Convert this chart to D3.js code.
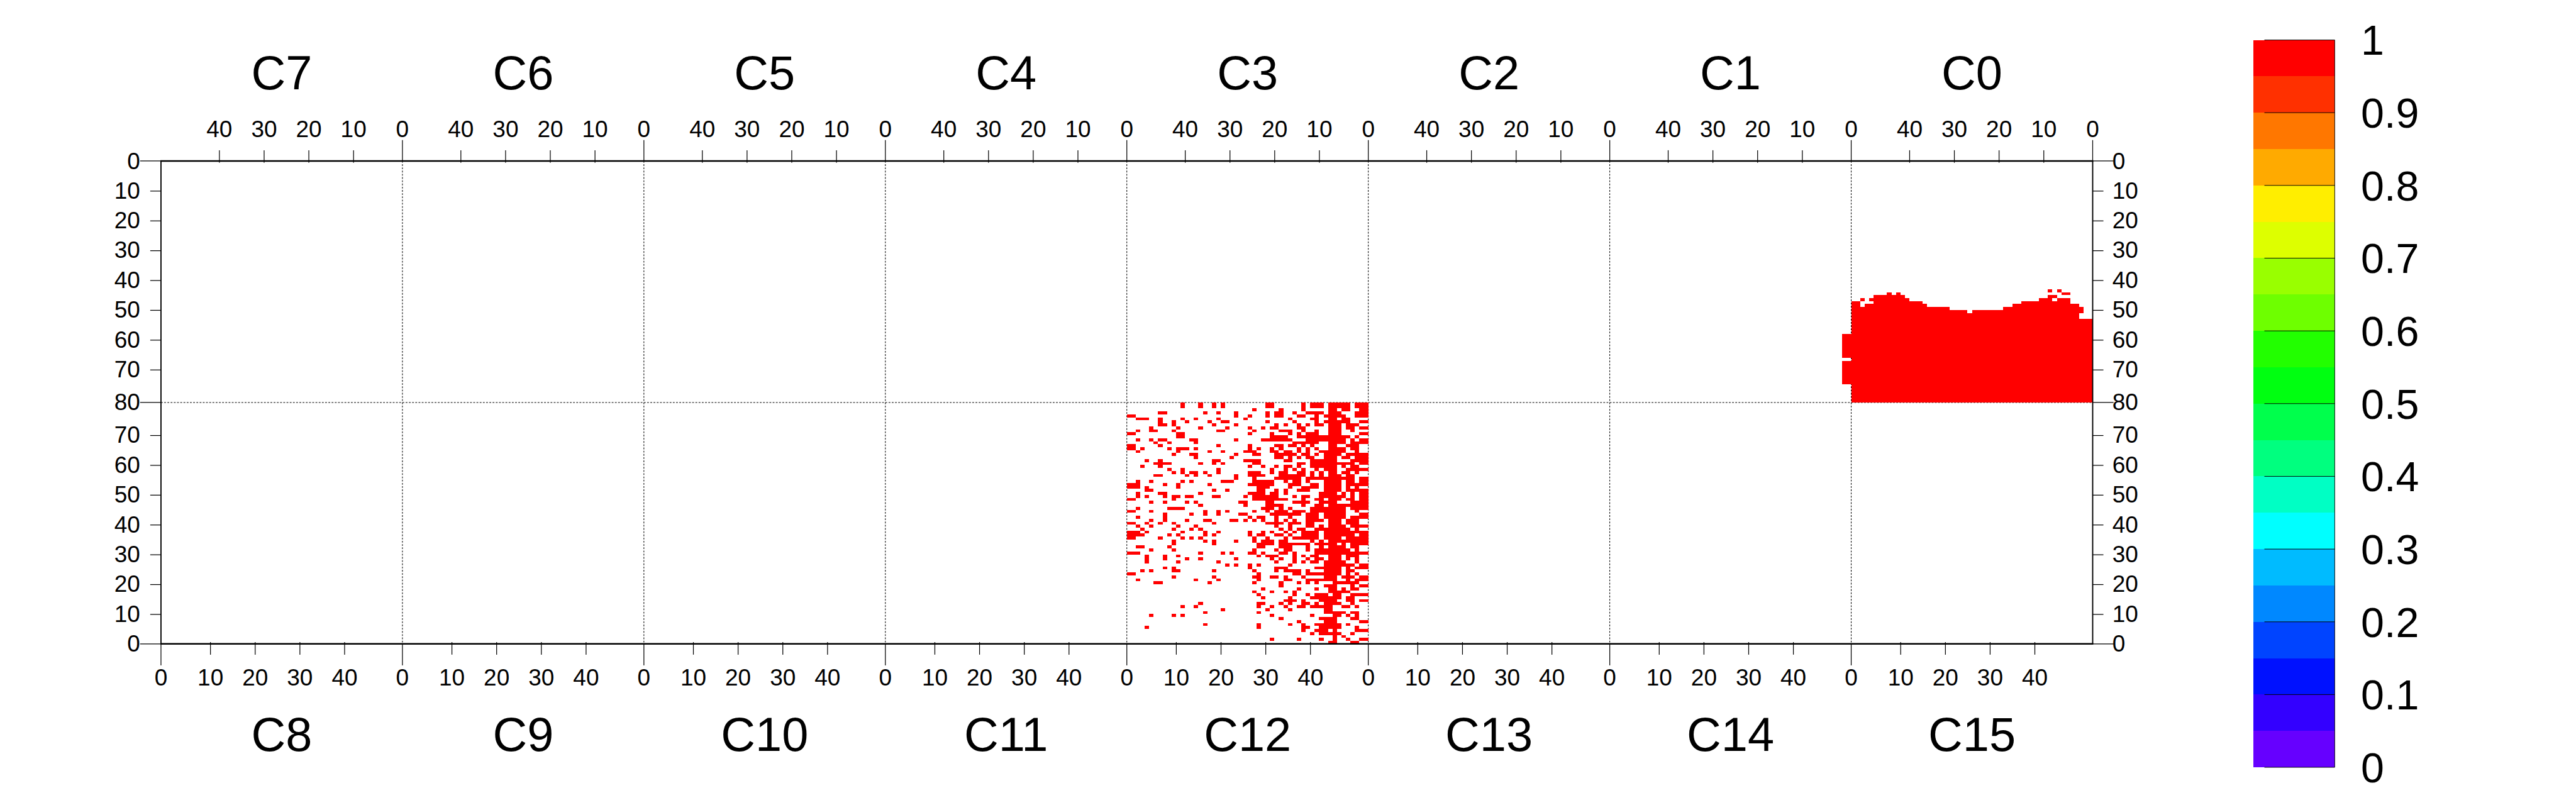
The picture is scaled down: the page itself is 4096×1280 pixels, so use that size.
<!DOCTYPE html>
<html>
<head>
<meta charset="utf-8">
<script src="https://cdn.jsdelivr.net/npm/d3@7"></script>
<style>
  html, body { margin: 0; padding: 0; background: #fff; }
  svg { display: block; }
</style>
</head>
<body>
<svg id="chart" width="4096" height="1280"></svg>
<script>
// ---- data ----
const chipNames = d3.range(16).map((i) => "C" + i);
const xTicks = [10, 20, 30, 40];
const yTicks = [10, 20, 30, 40, 50, 60, 70];
const colorTicks = [0, 0.1, 0.2, 0.3, 0.4, 0.5, 0.6, 0.7, 0.8, 0.9, 1];
const colorTickLabels = ["0", "0.1", "0.2", "0.3", "0.4", "0.5", "0.6", "0.7", "0.8", "0.9", "1"];
// 20 contour levels, low -> high
const paletteColors = [
  "#6600ff", "#3300ff", "#0011ff", "#0044ff", "#0088ff",
  "#00bbff", "#00ffff", "#00ffc4", "#00ff7f", "#00ff4c",
  "#00ff11", "#22ff00", "#6eff00", "#99ff00", "#ddff00",
  "#ffee00", "#ffaa00", "#ff7700", "#ff3000", "#ff0000",
];

// C0: first hit row of each column (col 0 .. 53), filled down to row 80
const c0TopRow = [
  53, 53, 53, 48, 48, 46, 46, 46, 47, 45, 46, 46, 47, 47, 47, 47, 48, 48,
  49, 49, 50, 50, 50, 50, 50, 50, 50, 51, 50, 50, 50, 50, 49, 49, 49, 49,
  49, 48, 47, 47, 47, 46, 45, 44, 45, 44, 45, 45, 45, 48, 48, 49, 47, 47,
];
// C0: isolated hits above the block [col, row]
const c0Extra = [[51, 46], [49, 46], [9, 43], [8, 45], [7, 43], [6, 44], [5, 44], [2, 49], [2, 50]];
// C1: [col, firstRow, lastRow]
const c1Runs = [[0, 58, 65], [0, 67, 74], [1, 58, 65], [1, 67, 74]];
// C12: hit columns per row, row 80 first, row 0 last
const c12Rows = [
  "12 16 19 21 31-32 39 41-43 45-49 51-53",
  "12 16 19 21 31-32 39 41-43 45-49 51-53",
  "28 34 39 45-46 48-49 52-53",
  "7-8 17 20 24 31 33-34 37 40-43 45-47 51-53",
  "0-1 24 27 31 33-34 38-39 42 44-48 51-53",
  "2-4 7 12 15 20 26 36 41-42 45-46 48-49",
  "7 10 13 18 21-22 31 37 42 44-49 52-53",
  "7-8 10 19 24 33 35 38 40 42-43 45-47 49-51",
  "5 11 16 22 27 30 32-33 38-39 45-47 49-50 52-53",
  "2 5-6 10 20-21 28 34-36 39 42 45-47 50",
  "0-1 11-12 27 32 36 38 40-42 45-47 52-53",
  "11-12 32-35 38-49 51",
  "2 5 7-8 14-15 24 30-36 40-48 50 52-53",
  "6 9 15 37-42 45-48 50-53",
  "0-1 7 20 27 33-34 36-37 39 41 45-46 49-51",
  "0-1 3 9 11-13 15 27 29 32 34 38 40 42 45-48 50-51",
  "2 11 18 21 26-28 32-33 35-36 38 40 43-48 51",
  "10 14-15 24 28-29 33-37 39-40 42 44-47 49-53",
  "15 23 33-34 36 38 40-41 44-46 48-49 51-53",
  "4 7 19-20 26-29 35-36 41-46 50-53",
  "6-9 16 19 21 28-29 38-39 41-50 52-53",
  "3 7 27 30 33 35-36 38 41-46 48 50-51",
  "9 12 20 32 35 37 39 42 44-46 49-53",
  "10 12 14-15 17 20 27-29 32 34-35 38-39 41 43 45-46 48-49 51",
  "6-7 13 15 18 24 27-30 34-39 41 43 45-47 49-50",
  "24 28 33-38 40-50 52-53",
  "2 5 12 14 21-23 28-32 35 37-38 40 44-47 49-50 52-53",
  "0-2 8 11 18 27-32 36-38 41-42 44-47 49-53",
  "0-2 4 11 29-31 36 39-42 44-47 49 51",
  "4-5 19 22 29-30 33 35 38-40 44-47 49-53",
  "2 7-8 16 27-30 32-33 35 43-46 48 50 52-53",
  "2 4 8 10-11 13-14 19-20 26 28-33 37 39-40 43-48 50 52-53",
  "0-1 10 28-35 39 42-43 45-47 49-50 52-53",
  "5 8 13 15 25-26 31-32 37-40 43-46 50-53",
  "16 26 31-34 39 42-43 45-53",
  "2 9-12 30-32 34 36 41-48 50-53",
  "0-1 5 17 20 22 28 31 33-35 37-39 41-48 51",
  "8 14 17 20 25-26 32-38 40-42 44-48 52-53",
  "2 8 27 29-30 33 36 40-42 44-48 50-53",
  "5 8 13 17-18 23-24 26 28 30 33 35 37 40-43 45-47 49-51",
  "0-1 4 7 10 19 31-34 36-38 40-41 45-47 49-51",
  "2 5 11 15 33 36 40-41 43 45-48 50-53",
  "3 10 14 16 34 36 38-39 42-49 51",
  "0-2 4 12 17 20 27 30 32 35 37 39-42 44-53",
  "0-3 9 11 17 19 27 29-30 33-34 36 39-42 44-50 52-53",
  "0-1 7 12 14 16 28 31 35 37-42 44-47 49-53",
  "10 17 19 24 28 30-32 34-35 41 43 45-53",
  "10 19 29-32 34-40 42-46 48 50-53",
  "2-3 9 29-30 34-36 40 43 45-48 50-51",
  "5 10 28 33 35-36 40 42-49 51",
  "0-2 16 21 23 27-28 30 34-35 37 42-53",
  "4 8 11 29 31-33 37 39 41-42 45-47 49-51",
  "4 8 13 16 24 32 34 37 40 42-43 45-47 49 51",
  "4 11 20 33 37 39 41-42 44-48 51",
  "22 24 27 29 36 44-50 52-53",
  "8 10 27 33-35 42-47 49 51-53",
  "3 5 10-11 19 28 33 35-38 40 44-47 49-50",
  "0-1 29 37-38 40-47 49 51",
  "10 19 28-29 32-33 35 39 44-46 48-50 52-53",
  "2 15 20 29 35-36 40-46 49 51-53",
  "6-7 18 28 34 38 40 42 46-51",
  "34 44-46 50 52-53",
  "30 38 42 45-46 48 50-51",
  "28 32 35 37 45-49",
  "29 37 40 42-44 46-47 50-53",
  "30 36 41-47 49-50",
  "35-37 39 43-46 49-50 52-53",
  "16 29-30 34 36 39-40 42 44-47 50",
  "12 15 29 32 35 38-39 41-45 48-49 51",
  "21 31 36 44-45",
  "17 29 44-48 50-51",
  "5 10 12 32 41 46-47 49 51",
  "34 43-46 50-51",
  "38 44-46 52-53",
  "17 29 36 39 42-47 49",
  "4 29 39-40 43-47 51",
  "39 42-44 46 51-53",
  "41 43-47 50",
  "46 48",
  "32 38 43 46 49 52-53",
  "45-46 50-51",
];

// ---- layout (reference pixels, scaled at the end) ----
const S = 0.948;
const frame = { left: 270, top: 270, right: 3510, bottom: 1080 };
const chipW = 405;
const font = "'Liberation Sans', Arial, Helvetica, sans-serif";

const svg = d3.select("#chart");
const root = svg.append("g").attr("transform", `scale(${S})`);

const yTop = d3.scaleLinear().domain([0, 81]).range([frame.top, 675]);
const yBot = d3.scaleLinear().domain([0, 81]).range([frame.bottom, 675]);

// top row: C7 .. C0 left to right (x reversed), bottom row: C8 .. C15
const chips = chipNames.map((name, i) => {
  const top = i < 8;
  const p = top ? 7 - i : i - 8;
  const x0 = frame.left + p * chipW;
  const xs = d3.scaleLinear().domain(top ? [53, -1] : [-1, 53]).range([x0, x0 + chipW]);
  return { name, top, p, xs, ys: top ? yTop : yBot };
});

const color = d3.scaleQuantize().domain([0, 1]).range(paletteColors);

// ---- cells ----
const cells = [];
c0TopRow.forEach((r0, col) => {
  for (let r = r0; r <= 80; r++) cells.push({ chip: 0, col, row: r, value: 1 });
});
c0Extra.forEach(([col, row]) => cells.push({ chip: 0, col, row, value: 1 }));
c1Runs.forEach(([col, r0, r1]) => {
  for (let r = r0; r <= r1; r++) cells.push({ chip: 1, col, row: r, value: 1 });
});
c12Rows.forEach((line, i) => {
  const row = 80 - i;
  line.split(" ").forEach((tok) => {
    const [a, b] = tok.split("-").map(Number);
    for (let c = a; c <= (b ?? a); c++) cells.push({ chip: 12, col: c, row, value: 1 });
  });
});

// dotted chip separators
const grid = root.append("g").attr("stroke", "#000").attr("stroke-width", 1.1)
  .attr("stroke-dasharray", "3,2.4").attr("fill", "none");
chips.filter((c) => !c.top && c.p > 0).forEach((c) => {
  grid.append("line").attr("x1", c.xs(-1)).attr("x2", c.xs(-1))
    .attr("y1", frame.top).attr("y2", frame.bottom);
});
grid.append("line").attr("x1", frame.left).attr("x2", frame.right)
  .attr("y1", yTop(81)).attr("y2", yTop(81));

root.append("g").attr("shape-rendering", "crispEdges")
  .selectAll("rect").data(cells).join("rect")
  .attr("x", (d) => { const c = chips[d.chip]; return Math.min(c.xs(d.col - 1), c.xs(d.col)); })
  .attr("width", (d) => { const c = chips[d.chip]; return Math.abs(c.xs(d.col) - c.xs(d.col - 1)); })
  .attr("y", (d) => { const c = chips[d.chip]; return Math.min(c.ys(d.row), c.ys(d.row + 1)); })
  .attr("height", (d) => { const c = chips[d.chip]; return Math.abs(c.ys(d.row + 1) - c.ys(d.row)); })
  .attr("fill", (d) => color(d.value));

// ---- axes ----
function styleAxis(g) {
  g.select(".domain").remove();
  g.attr("font-family", font).attr("font-size", 39);
  g.selectAll(".tick line").attr("stroke", "#000").attr("stroke-width", 1.3);
  g.selectAll(".tick text").attr("fill", "#000");
}

const axes = root.append("g");
const edges = root.append("g").attr("stroke", "#000").attr("stroke-width", 1.3);
const edgeText = root.append("g").attr("font-family", font).attr("font-size", 39).attr("fill", "#000");

chips.forEach((c) => {
  if (c.top) {
    axes.append("g").attr("transform", `translate(0,${frame.top})`)
      .call(d3.axisTop(c.xs).tickValues(xTicks).tickSize(18).tickPadding(22))
      .call(styleAxis)
      .call((g) => g.selectAll(".tick line").attr("y1", 3));
    const x = c.xs(-1);
    edges.append("line").attr("x1", x).attr("x2", x).attr("y1", frame.top - 35).attr("y2", frame.top);
    edgeText.append("text").attr("x", x).attr("y", frame.top - 40).attr("text-anchor", "middle").text("0");
  } else {
    axes.append("g").attr("transform", `translate(0,${frame.bottom})`)
      .call(d3.axisBottom(c.xs).tickValues(xTicks).tickSize(18).tickPadding(24))
      .call(styleAxis)
      .call((g) => g.selectAll(".tick line").attr("y1", -3));
    const x = c.xs(-1);
    edges.append("line").attr("x1", x).attr("x2", x).attr("y1", frame.bottom).attr("y2", frame.bottom + 36);
    edgeText.append("text").attr("x", x).attr("y", frame.bottom + 70).attr("text-anchor", "middle").text("0");
  }
});

[yTop, yBot].forEach((ys) => {
  axes.append("g").attr("transform", `translate(${frame.left},0)`)
    .call(d3.axisLeft(ys).tickValues(yTicks).tickSize(18).tickPadding(17))
    .call(styleAxis);
  axes.append("g").attr("transform", `translate(${frame.right},0)`)
    .call(d3.axisRight(ys).tickValues(yTicks).tickSize(18).tickPadding(15))
    .call(styleAxis);
});

// chip edges on the y axes: top edge, middle, bottom edge
const yEdges = [yTop(0), yTop(81), yBot(0)];
const yEdgeLabels = ["0", "80", "0"];
yEdges.forEach((y, i) => {
  edges.append("line").attr("x1", frame.left - 35).attr("x2", frame.left).attr("y1", y).attr("y2", y);
  edges.append("line").attr("x1", frame.right).attr("x2", frame.right + 35).attr("y1", y).attr("y2", y);
  edgeText.append("text").attr("x", frame.left - 35).attr("y", y).attr("dy", "0.34em")
    .attr("text-anchor", "end").text(yEdgeLabels[i]);
  edgeText.append("text").attr("x", frame.right + 33).attr("y", y).attr("dy", "0.34em")
    .attr("text-anchor", "start").text(yEdgeLabels[i]);
});

// frame
const fr = root.append("g").attr("stroke", "#000");
fr.append("line").attr("x1", frame.left - 1).attr("x2", frame.right + 1).attr("y1", frame.top).attr("y2", frame.top).attr("stroke-width", 2.6);
fr.append("line").attr("x1", frame.left - 1).attr("x2", frame.right + 1).attr("y1", frame.bottom).attr("y2", frame.bottom).attr("stroke-width", 2.6);
fr.append("line").attr("x1", frame.left).attr("x2", frame.left).attr("y1", frame.top).attr("y2", frame.bottom).attr("stroke-width", 2);
fr.append("line").attr("x1", frame.right).attr("x2", frame.right).attr("y1", frame.top).attr("y2", frame.bottom).attr("stroke-width", 2);

// chip names
root.append("g").attr("font-family", font).attr("font-size", 80).attr("fill", "#000")
  .selectAll("text").data(chips).join("text")
  .attr("x", (c) => (c.xs(-1) + c.xs(53)) / 2)
  .attr("y", (c) => (c.top ? 150 : 1260))
  .attr("text-anchor", "middle")
  .text((c) => c.name);

// ---- colour bar ----
const cb = { x: 3780, w: 136 };
const cbY = d3.scaleLinear().domain([0, 1]).range([1287, 67]);
const cbG = root.append("g");
cbG.append("g").attr("shape-rendering", "crispEdges")
  .selectAll("rect").data(paletteColors).join("rect")
  .attr("x", cb.x).attr("width", cb.w)
  .attr("y", (d, i) => cbY((i + 1) / paletteColors.length))
  .attr("height", (d, i) => cbY(i / paletteColors.length) - cbY((i + 1) / paletteColors.length))
  .attr("fill", (d) => d);
cbG.append("g").attr("stroke", "#000").attr("stroke-width", 1)
  .selectAll("line").data(colorTicks).join("line")
  .attr("x1", cb.x + 18).attr("x2", cb.x + cb.w)
  .attr("y1", (d) => cbY(d)).attr("y2", (d) => cbY(d));
cbG.append("line").attr("stroke", "#000").attr("stroke-width", 1)
  .attr("x1", cb.x + cb.w).attr("x2", cb.x + cb.w).attr("y1", cbY(1)).attr("y2", cbY(0));
cbG.append("g").attr("font-family", font).attr("font-size", 70).attr("fill", "#000")
  .selectAll("text").data(colorTicks).join("text")
  .attr("x", 3960).attr("y", (d) => cbY(d)).attr("dy", "0.36em")
  .text((d, i) => colorTickLabels[i]);
</script>
</body>
</html>
